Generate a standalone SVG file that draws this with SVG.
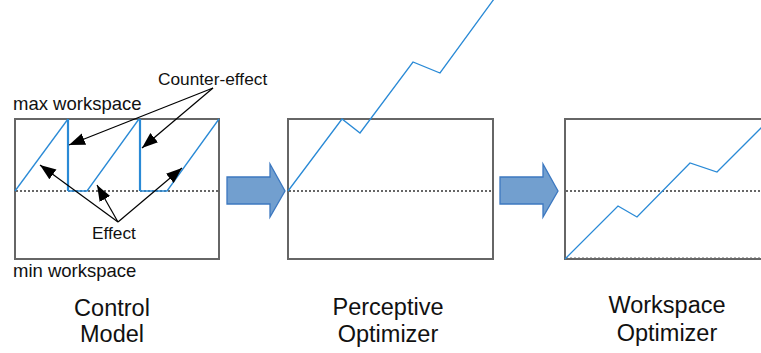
<svg xmlns="http://www.w3.org/2000/svg" width="761" height="353" viewBox="0 0 761 353">
<defs>
<style>
.box{fill:#fff;stroke:#666;stroke-width:2}
.dot{stroke:#666;stroke-width:2;stroke-dasharray:2,2;fill:none}
.blue{stroke:#2a8ad6;stroke-width:1.3;fill:none;stroke-linejoin:miter}
.blue2{stroke:#2a8ad6;stroke-width:2.2;fill:none}
.big{stroke:#3c78c0;stroke-width:1.3;fill:#729fcf}
.ptr{stroke:#000;stroke-width:1.2;fill:none;marker-end:url(#ah)}
text{font-family:"Liberation Sans",Arial,sans-serif;fill:#111}
.t18{font-size:18.5px}
.t17{font-size:17.3px}
.t23{font-size:23.5px;text-anchor:middle}
</style>
<marker id="ah" markerUnits="userSpaceOnUse" markerWidth="18" markerHeight="14" refX="16" refY="6" orient="auto">
<path d="M0,0 L16,6 L0,12 Z" fill="#000"/>
</marker>
</defs>
<rect width="761" height="353" fill="#fff"/>

<g id="control-model">
<rect class="box" x="15" y="119" width="204" height="140"/>
<line class="dot" x1="16" y1="191" x2="218" y2="191"/>
<polyline class="blue" points="15,191 68,119"/>
<line class="blue2" x1="68" y1="119" x2="68" y2="191"/>
<polyline class="blue" points="68,191 87,191 139,119"/>
<line class="blue2" x1="140" y1="119" x2="140" y2="191"/>
<polyline class="blue" points="140,191 167,191 219,119"/>
<text class="t18" x="13" y="110">max workspace</text>
<text class="t18" x="13" y="277">min workspace</text>
<text class="t23" x="112" y="316">Control</text>
<text class="t23" x="112" y="342">Model</text>
</g>

<g id="perceptive-optimizer">
<rect class="box" x="288" y="119" width="205" height="140"/>
<line class="dot" x1="289" y1="191" x2="492" y2="191"/>
<polyline class="blue" points="288,191 342,119 360,133 413,62 440,73 494,-1"/>
<text class="t23" x="388" y="315">Perceptive</text>
<text class="t23" x="388" y="342">Optimizer</text>
</g>

<g id="workspace-optimizer">
<rect class="box" x="565" y="119" width="210" height="140"/>
<line class="dot" x1="566" y1="191" x2="761" y2="191"/>
<line class="dot" x1="566" y1="258.5" x2="761" y2="258.5"/>
<polyline class="blue" points="565,259 618,206 637,217 690,163 717,172 762,127"/>
<text class="t23" x="667" y="313">Workspace</text>
<text class="t23" x="667" y="341">Optimizer</text>
</g>

<g id="labels">
<text class="t17" x="158" y="85">Counter-effect</text>
<text class="t17" x="92" y="239">Effect</text>
</g>

<g id="connectors">
<path class="big" d="M227,177 H270 V164 L285,191 L270,217 V204 H227 Z"/>
<path class="big" d="M500,177 H543 V164 L558,191 L543,217 V204 H500 Z"/>
<line class="ptr" x1="213" y1="88" x2="69" y2="145"/>
<line class="ptr" x1="213" y1="88" x2="142" y2="148"/>
<line class="ptr" x1="118" y1="222" x2="40" y2="165"/>
<line class="ptr" x1="118" y1="222" x2="97" y2="185"/>
<line class="ptr" x1="118" y1="222" x2="182" y2="168"/>
</g>
</svg>
